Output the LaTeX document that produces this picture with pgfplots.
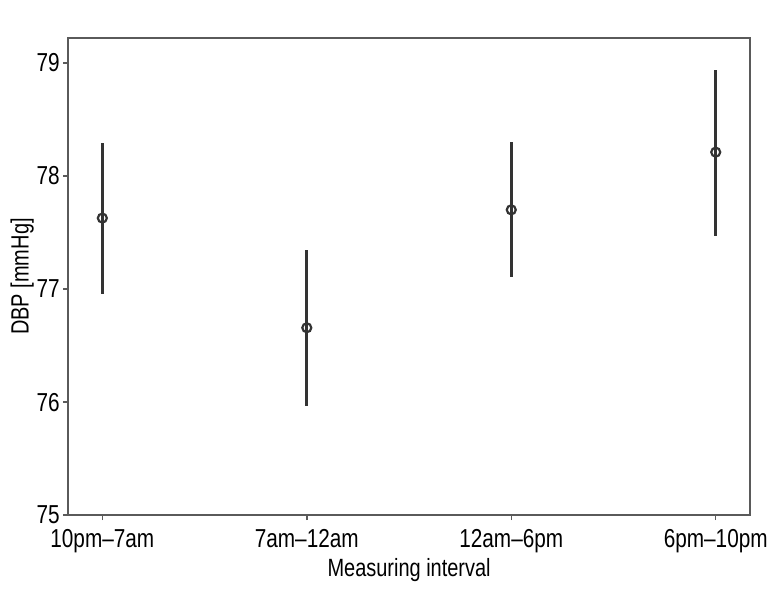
\documentclass[border=0pt]{standalone}
\usepackage{pgfplots}
\pgfplotsset{compat=1.18}
\usepackage{fontspec}
\setmainfont{Liberation Sans}[FakeStretch=0.8]
\definecolor{axgray}{HTML}{5A5A5A}
\definecolor{bardark}{HTML}{333333}
\begin{document}
\begin{tikzpicture}
\begin{axis}[
  scale only axis,
  width=683pt, height=478pt,
  xmin=-0.167, xmax=3.168,
  ymin=75, ymax=79.22,
  xtick={0,1,2,3},
  xticklabels={10pm--7am, 7am--12am, 12am--6pm, 6pm--10pm},
  ytick={75,76,77,78,79},
  tick align=outside,
  xtick pos=bottom, ytick pos=left,
  major tick length=5pt,
  every tick/.style={axgray, line width=1.5pt},
  axis line style={axgray, line width=1.8pt},
  tick label style={font=\fontsize{26}{28}\selectfont},
  xticklabel style={yshift=-6pt},
  /pgf/number format/assume math mode=true,
  xlabel={Measuring interval},
  ylabel={DBP [mmHg]},
  label style={font=\fontsize{25}{27}\selectfont},
  xlabel style={yshift=2pt},
  ylabel style={yshift=-4pt},
  clip=false,
]
\addplot[only marks, mark=o, mark size=4.5pt,
  mark options={draw=bardark, fill=white, line width=2.2pt},
  error bars/.cd, y dir=both, y explicit, error mark=none,
  error bar style={bardark, line width=3pt}]
  coordinates {
    (0,77.627) += (0,0.667) -= (0,0.667)
    (1,76.657) += (0,0.690) -= (0,0.692)
    (2,77.700) += (0,0.600) -= (0,0.593)
    (3,78.210) += (0,0.727) -= (0,0.740)
  };
\end{axis}
\path[use as bounding box] (-68.3pt,-101pt) rectangle (702.7pt,516pt);
\end{tikzpicture}
\end{document}
